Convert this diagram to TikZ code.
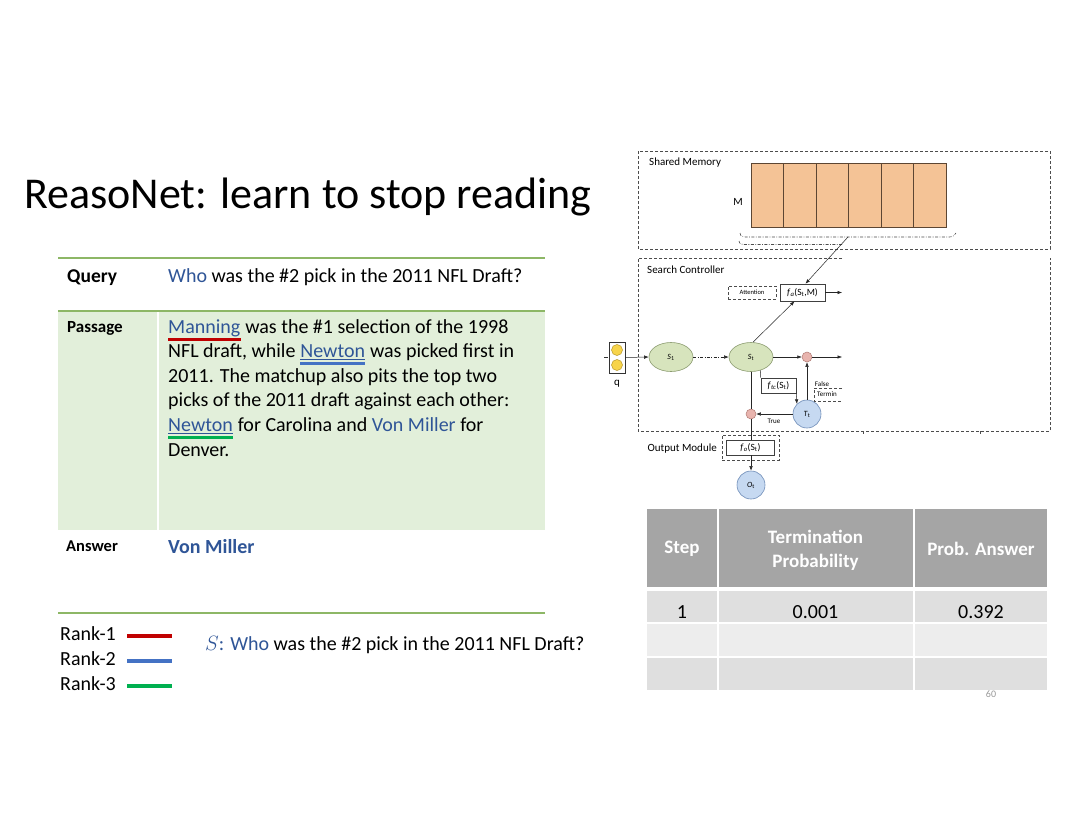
\documentclass[tikz,border=0pt]{standalone}
\usepackage{fontspec}
\setmainfont{Carlito}
\usetikzlibrary{arrows.meta,shapes.geometric}
\definecolor{tblue}{HTML}{2F5597}
\definecolor{gline}{HTML}{8DB766}
\definecolor{passbg}{HTML}{E2EFDA}
\definecolor{rkred}{HTML}{C00000}
\definecolor{rkblue}{HTML}{4472C4}
\definecolor{rkgreen}{HTML}{00B050}
\definecolor{hdrgray}{HTML}{A5A5A5}
\definecolor{rowa}{HTML}{DFDFDF}
\definecolor{rowb}{HTML}{EDEDED}
\definecolor{memfill}{HTML}{F4C396}
\definecolor{memline}{HTML}{5C4633}
\definecolor{sfill}{HTML}{D7E4BD}
\definecolor{sline}{HTML}{8C9C70}
\definecolor{cfill}{HTML}{C6D9F1}
\definecolor{cline}{HTML}{6F8DB8}
\definecolor{rfill}{HTML}{E8B4AE}
\definecolor{rline}{HTML}{B07A74}
\definecolor{yfill}{HTML}{F7D44A}
\definecolor{yline}{HTML}{B8962A}
\newcommand\fsz[1]{\fontsize{#1}{#1}\selectfont}
\begin{document}
\begin{tikzpicture}[x=1pt,y=-1pt,
  txt/.style={inner sep=0pt, anchor=base west},
  ptxt/.style={txt, font=\fsz{20}},
  glinestyle/.style={draw=gline, line width=1.3pt},
  rankbar/.style={line width=3.5pt},
  ulbar/.style={line width=3pt},
  thinul/.style={line width=0.8pt},
  dbox/.style={draw=black!70, dash pattern=on 3pt off 2pt, line width=0.7pt},
  fbox/.style={draw=black!75, fill=white, line width=0.6pt, inner sep=0pt, font=\fsz{9.5}},
  arr/.style={-{Latex[length=4.5pt,width=3.5pt]}, line width=0.5pt, draw=black!85},
  plain/.style={line width=0.5pt, draw=black!85},
  sell/.style={ellipse, fill=sfill, draw=sline, line width=0.6pt, minimum width=44pt, minimum height=29pt, inner sep=0pt, font=\fsz{8}},
  bcirc/.style={circle, fill=cfill, draw=cline, line width=0.6pt, minimum size=28pt, inner sep=0pt, font=\fsz{8}},
  rcirc/.style={circle, fill=rfill, draw=rline, line width=0.5pt, minimum size=10pt, inner sep=0pt},
  ycirc/.style={circle, fill=yfill, draw=yline, line width=0.5pt, minimum size=11pt, inner sep=0pt},
  memcell/.style={rectangle, fill=memfill, draw=memline, line width=0.7pt, minimum width=32.5pt, minimum height=64pt, inner sep=0pt},
  lab/.style={inner sep=0pt, font=\fsz{11}},
  tiny/.style={inner sep=0pt, font=\fsz{7}},
  hdr/.style={inner sep=0pt, text=white, align=center, font=\fontsize{19}{24}\selectfont\bfseries},
  cell/.style={inner sep=0pt, font=\fsz{20}}
]
\useasboundingbox[fill=white] (0,0) rectangle (1080,835);

% ---------- title ----------
\node[txt, font=\fsz{44}] (title) at (24,208) {ReasoNet: learn to stop reading};

% ---------- left table ----------
\fill[passbg] (58,311) rectangle (545,530);
\draw[white, line width=1.5pt] (158,311) -- (158,530);
\draw[glinestyle] (58,258) -- (545,258);
\draw[glinestyle, line width=1.8pt] (58,311) -- (545,311);
\draw[glinestyle] (58,613) -- (545,613);

\node[txt, font=\fsz{19.5}\bfseries] (qlab) at (67,282) {Query};
\node[ptxt] (qtext) at (168,282) {\textcolor{tblue}{Who} was the \#2 pick in the 2011 NFL Draft?};

\node[txt, font=\fsz{17}\bfseries] (plab) at (67,332) {Passage};
\node[ptxt, text=tblue] (man) at (168,333) {Manning};
\node[ptxt] (p1) at (man.base east) {~was the \#1 selection of the 1998};
\node[ptxt] (p2a) at (168,357.6) {NFL draft, while~\kern0pt};
\node[ptxt, text=tblue] (newt1) at (p2a.base east) {Newton};
\node[ptxt] (p2b) at (newt1.base east) {~was picked first in};
\node[ptxt] (p3) at (168,382.2) {2011. The matchup also pits the top two};
\node[ptxt] (p4) at (168,406.8) {picks of the 2011 draft against each other:};
\node[ptxt, text=tblue] (newt2) at (168,431.4) {Newton};
\node[ptxt] (p5) at (newt2.base east) {~for Carolina and \textcolor{tblue}{Von Miller} for};
\node[ptxt] (p6) at (168,456) {Denver.};

\draw[ulbar, rkred] ([yshift=-6.5pt]man.base west) -- ([yshift=-6.5pt]man.base east);
\draw[thinul, tblue] ([yshift=-2.2pt]newt1.base west) -- ([yshift=-2.2pt]newt1.base east);
\draw[ulbar, rkblue] ([yshift=-6pt]newt1.base west) -- ([yshift=-6pt]newt1.base east);
\draw[thinul, tblue] ([yshift=-2.2pt]newt2.base west) -- ([yshift=-2.2pt]newt2.base east);
\draw[ulbar, rkgreen] ([yshift=-6pt]newt2.base west) -- ([yshift=-6pt]newt2.base east);

\node[txt, font=\fsz{16.5}\bfseries] (alab) at (66,551) {Answer};
\node[txt, font=\fsz{20}\bfseries, text=tblue] (ans) at (168,553) {Von Miller};

% ---------- legend ----------
\node[ptxt] (r1) at (60,640) {Rank-1};
\node[ptxt] (r2) at (60,665) {Rank-2};
\node[ptxt] (r3) at (60,690) {Rank-3};
\coordinate (b1s) at (127,636); \coordinate (b1e) at (172,636);
\coordinate (b2s) at (127,661); \coordinate (b2e) at (172,661);
\coordinate (b3s) at (127,686); \coordinate (b3e) at (172,686);
\draw[rankbar, rkred] (b1s) -- (b1e);
\draw[rankbar, rkblue] (b2s) -- (b2e);
\draw[rankbar, rkgreen] (b3s) -- (b3e);
\node[ptxt] (sq) at (205,650) {\textcolor{tblue}{$S$: Who} was the \#2 pick in the 2011 NFL Draft?};

% ---------- right table ----------
\fill[hdrgray] (647,509) rectangle (716.5,587);
\fill[hdrgray] (718.5,509) rectangle (913,587);
\fill[hdrgray] (915,509) rectangle (1047,587);
\fill[rowa] (647,590.5) rectangle (716.5,622);
\fill[rowa] (718.5,590.5) rectangle (913,622);
\fill[rowa] (915,590.5) rectangle (1047,622);
\fill[rowb] (647,624) rectangle (716.5,656);
\fill[rowb] (718.5,624) rectangle (913,656);
\fill[rowb] (915,624) rectangle (1047,656);
\fill[rowa] (647,658) rectangle (716.5,690);
\fill[rowa] (718.5,658) rectangle (913,690);
\fill[rowa] (915,658) rectangle (1047,690);
\node[hdr] (h1) at (682,549) {Step};
\node[hdr] (h2) at (815.5,550) {Termination\\Probability};
\node[hdr] (h3) at (981,549) {Prob. Answer};
\node[cell] (c1) at (682,612) {1};
\node[cell] (c2) at (815.5,612) {0.001};
\node[cell] (c3) at (981,612) {0.392};
\node[inner sep=0pt, font=\fsz{10}, text=black!40] (pg) at (991,694) {60};

% ---------- diagram: shared memory ----------
\draw[dbox] (638,151) rectangle (1050,249);
\node[lab, anchor=base west] (smlab) at (649,165.5) {Shared Memory};
\foreach \i in {1,...,6} {
  \node[memcell] (m\i) at ({751+32.5*(\i-0.5)},195) {};
}
\node[lab] (mlab) at (738,202) {M};
\draw[dash pattern=on 3pt off 1.5pt on 0.8pt off 1.5pt, line width=0.6pt, black!70]
  (740,233) .. controls (741,237) .. (750,237) -- (946,237) .. controls (953,237) .. (956,233);
\draw[dash pattern=on 3pt off 1.5pt on 0.8pt off 1.5pt, line width=0.6pt, black!70]
  (739,241) .. controls (740,244.5) .. (749,244.5) -- (842,244.5);

% ---------- diagram: search controller ----------
\draw[dbox] (842,258) -- (638,258) -- (638,431) -- (1050,431) -- (1050,258);
\draw[black!70, line width=0.6pt] (863,431) -- (863,434) (980,431) -- (980,434);
\node[lab, anchor=base west] (sclab) at (647,273.5) {Search Controller};

\node[dbox, minimum width=48pt, minimum height=13pt, inner sep=0pt, font=\fsz{6.5}] (att) at (752,292.5) {Attention};
\node[fbox, minimum width=45pt, minimum height=17pt] (fa) at (802.5,292.5) {\textit{f}\textsubscript{\textit{a}}(S\textsubscript{t},M)};
\coordinate (faout) at (842,292.5);
\coordinate (memout) at (848,237);
\draw[arr] (memout) -- ([xshift=3pt]fa.north);
\draw[arr] (fa.east) -- (faout);

% q input
\draw[line width=0.6pt, black!80] (604,357) -- (608,357);
\node[draw=black!80, fill=white, line width=0.7pt, minimum width=16pt, minimum height=31pt, inner sep=0pt] (qbox) at (617,357.5) {};
\node[ycirc] (y1) at (617,350) {};
\node[ycirc] (y2) at (617,365) {};
\node[lab] (qlabel) at (617,384) {q};

\node[sell] (S1) at (671,357) {\textit{S}\textsubscript{1}};
\node[sell] (St) at (751,357) {\textit{S}\textsubscript{t}};
\node[rcirc] (rc1) at (807,357) {};
\node[bcirc] (Tt) at (807,414) {\textit{T}\textsubscript{t}};
\node[rcirc] (rc2) at (751,414) {};
\node[bcirc] (Ot) at (751,485) {\textit{O}\textsubscript{t}};
\coordinate (rout) at (842,357);

\draw[arr] (qbox.east) -- (S1.west);
\draw[arr, dash pattern=on 3pt off 1.5pt on 0.8pt off 1.5pt] (S1.east) -- (St.west);
\draw[arr] (St.east) -- (rc1.west);
\draw[arr] (rc1.east) -- (rout);
\draw[arr] ([xshift=2pt]St.north) -- ([xshift=-8pt]fa.south);
\draw[arr] (Tt.north) -- (rc1.south);
\draw[arr] (Tt.west) -- (rc2.east);
\draw[plain] (St.south) -- (rc2.north);

\node[fbox, minimum width=35pt, minimum height=15pt] (ftc) at (778.5,385.5) {\textit{f}\textsubscript{\textit{tc}}(S\textsubscript{t})};
\draw[plain] (St.-55) -- (ftc.north west);
\draw[arr] (ftc.south east) -- (Tt.135);

\node[tiny] (flab) at (822,384) {False};
\node[tiny] (tlab) at (774,421) {True};
\draw[dbox] (842,388) -- (814,388) -- (814,401) -- (842,401);
\node[tiny, anchor=west] (term) at (817,394.5) {Termin};

% output module
\node[dbox, minimum width=57pt, minimum height=25pt, inner sep=0pt] (omod) at (750.5,447.5) {};
\node[lab, anchor=base east] (omlab) at (717,451.5) {Output Module};
\node[fbox, minimum width=48pt, minimum height=15pt] (fo) at (750.5,447.5) {\textit{f}\textsubscript{\textit{o}}(S\textsubscript{t})};
\draw[plain] (rc2.south) -- (fo.north -| rc2.south);
\draw[arr] (fo.south -| Ot.north) -- (Ot.north);
\end{tikzpicture}
\end{document}
